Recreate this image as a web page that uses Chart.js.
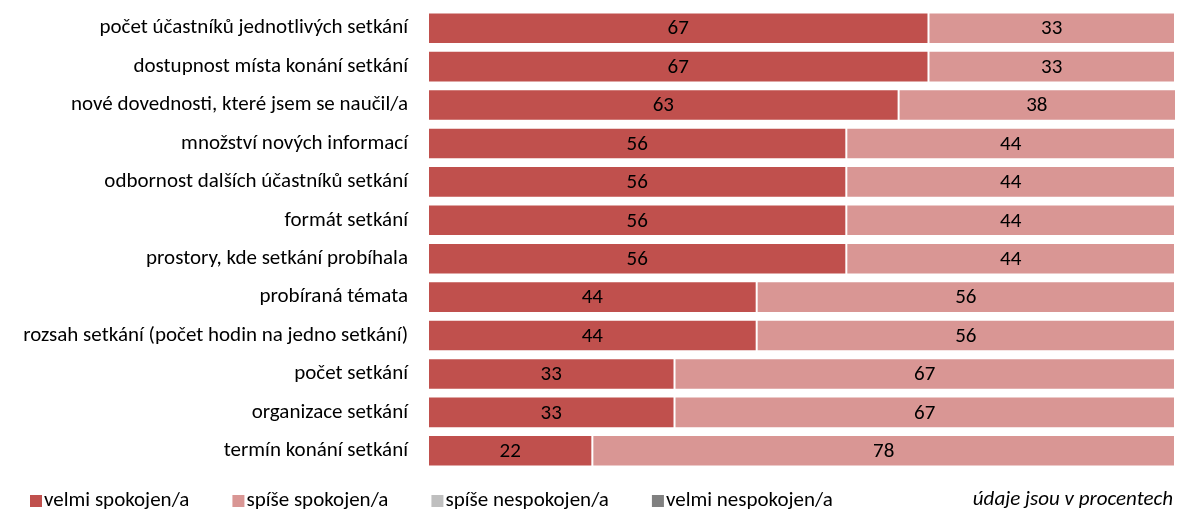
<!DOCTYPE html>
<html lang="cs">
<head>
<meta charset="utf-8">
<script src="https://cdn.jsdelivr.net/npm/chart.js@4/dist/chart.umd.min.js"></script>
<style>
    html, body { margin: 0; padding: 0; background: #fff; }
    #wrap { width: 1177px; height: 512px; position: relative; }
</style>
</head>
<body>
<div id="wrap"><canvas id="satisfactionChart"></canvas></div>
<script>
const categories = [
    "počet účastníků jednotlivých setkání",
    "dostupnost místa konání setkání",
    "nové dovednosti, které jsem se naučil/a",
    "množství nových informací",
    "odbornost dalších účastníků setkání",
    "formát setkání",
    "prostory, kde setkání probíhala",
    "probíraná témata",
    "rozsah setkání (počet hodin na jedno setkání)",
    "počet setkání",
    "organizace setkání",
    "termín konání setkání"
];
const velmiSpokojen = [67, 67, 63, 56, 56, 56, 56, 44, 44, 33, 33, 22];
const spiseSpokojen = [33, 33, 38, 44, 44, 44, 44, 56, 56, 67, 67, 78];
const spiseNespokojen = [0, 0, 0, 0, 0, 0, 0, 0, 0, 0, 0, 0];
const velmiNespokojen = [0, 0, 0, 0, 0, 0, 0, 0, 0, 0, 0, 0];
const noteText = "údaje jsou v procentech";

const FONT = "Carlito, Lato, sans-serif";
const FONT_SIZE = 21;

// writes the value in the middle of every non-empty segment
const segmentLabels = {
    id: "segmentLabels",
    afterDatasetsDraw(chart) {
        const ctx = chart.ctx;
        ctx.save();
        ctx.font = FONT_SIZE + "px " + FONT;
        ctx.fillStyle = "#000";
        ctx.textAlign = "center";
        ctx.textBaseline = "middle";
        chart.data.datasets.forEach((ds, i) => {
            const meta = chart.getDatasetMeta(i);
            if (meta.hidden) return;
            meta.data.forEach((bar, j) => {
                const v = ds.data[j];
                if (!v) return;
                const right = Math.min(bar.x, chart.chartArea.right);
                ctx.fillText(v, (bar.base + right) / 2, bar.y + 1);
            });
        });
        ctx.restore();
    }
};

// legend row along the bottom plus the note on the right
const bottomLegend = {
    id: "bottomLegend",
    afterDraw(chart) {
        const ctx = chart.ctx;
        const y = 501;
        let x = 30;
        ctx.save();
        ctx.font = FONT_SIZE + "px " + FONT;
        ctx.textBaseline = "middle";
        ctx.textAlign = "left";
        chart.data.datasets.forEach(ds => {
            ctx.fillStyle = ds.backgroundColor;
            ctx.fillRect(x, y - 6, 12, 12);
            ctx.fillStyle = "#000";
            ctx.fillText(ds.label, x + 14, y);
            x += 14 + ctx.measureText(ds.label).width + 43;
        });
        ctx.font = "italic " + FONT_SIZE + "px " + FONT;
        ctx.textAlign = "right";
        ctx.fillText(noteText, 1173, y - 1);
        ctx.restore();
    }
};

function dataset(label, data, color) {
    return {
        label: label,
        data: data,
        backgroundColor: color,
        borderColor: "rgba(255,255,255,0.35)",
        borderWidth: 1,
        borderSkipped: false,
        barPercentage: 0.82,
        categoryPercentage: 1
    };
}

new Chart(document.getElementById("satisfactionChart"), {
    type: "bar",
    data: {
        labels: categories,
        datasets: [
            dataset("velmi spokojen/a", velmiSpokojen, "#C0504D"),
            dataset("spíše spokojen/a", spiseSpokojen, "#D99694"),
            dataset("spíše nespokojen/a", spiseNespokojen, "#BFBFBF"),
            dataset("velmi nespokojen/a", velmiNespokojen, "#808080")
        ]
    },
    options: {
        indexAxis: "y",
        responsive: true,
        maintainAspectRatio: false,
        animation: false,
        layout: { padding: { top: 9, right: 2, bottom: 42, left: 0 } },
        plugins: {
            legend: { display: false },
            tooltip: { enabled: false }
        },
        scales: {
            x: {
                stacked: true,
                display: false,
                min: 0,
                max: 100
            },
            y: {
                stacked: true,
                grid: { display: false, drawTicks: false },
                border: { display: false },
                ticks: {
                    color: "#000",
                    padding: 20,
                    font: { family: FONT, size: FONT_SIZE }
                },
                afterFit(scale) {
                    // fixed label column, no extra room above/below the bars
                    scale.width = 428;
                    scale.paddingTop = 0;
                    scale.paddingBottom = 0;
                }
            }
        }
    },
    plugins: [segmentLabels, bottomLegend]
});
</script>
</body>
</html>
